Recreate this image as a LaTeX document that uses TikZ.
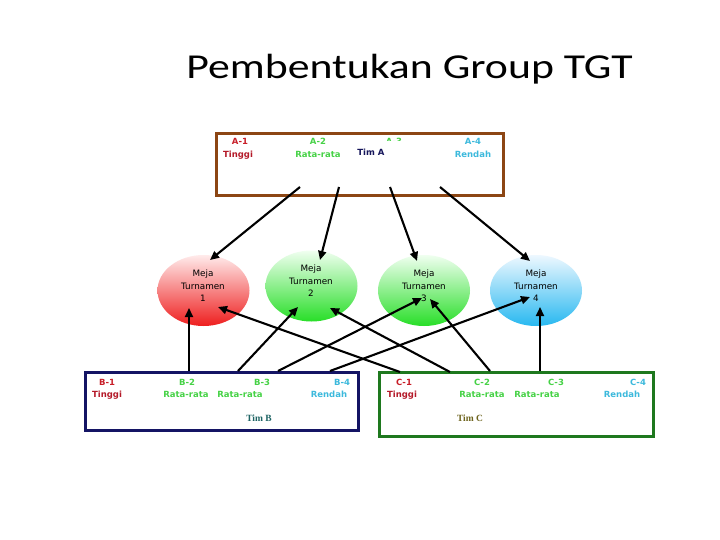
\documentclass[tikz,border=0pt]{standalone}
\usepackage{fontspec}
\usepackage{graphicx}
\setmainfont{DejaVu Sans}
\newfontfamily\titlefont{Carlito}
\newfontfamily\serifbf{Liberation Serif}
\usetikzlibrary{shapes.geometric,arrows.meta}
\definecolor{redA}{RGB}{200,30,40}
\definecolor{redB}{RGB}{180,25,40}
\definecolor{grnT}{RGB}{70,210,70}
\definecolor{cyanT}{RGB}{60,185,220}
\definecolor{navyT}{RGB}{20,20,90}
\definecolor{tealT}{RGB}{30,100,100}
\definecolor{oliveT}{RGB}{110,100,30}
\definecolor{brownB}{RGB}{140,70,20}
\definecolor{navyB}{RGB}{20,20,100}
\definecolor{greenB}{RGB}{30,120,30}
\begin{document}
\begin{tikzpicture}[x=1pt,y=-1pt,
  lbl/.style={font=\fontsize{8.5}{10}\selectfont\bfseries, inner sep=0pt, anchor=base},
  tim/.style={font=\serifbf\fontsize{9.5}{11}\selectfont\bfseries, inner sep=0pt, anchor=base},
  grpbox/.style={draw, line width=3pt, inner sep=0pt, fill=none},
  meja/.style={ellipse, minimum width=92pt, minimum height=71pt, inner sep=0pt, draw=none},
  mejatxt/.style={font=\fontsize{8.8}{12.5}\selectfont, align=center, inner sep=0pt},
  arr/.style={line width=2.1pt, -{Triangle[length=9pt,width=8pt]}}
]
\useasboundingbox[fill=white] (0,0) rectangle (720,540);

% title
\node[font=\titlefont\fontsize{35}{40}\selectfont, anchor=base, inner sep=0pt] (title) at (409.5,79) {\scalebox{1.25}[1]{Pembentukan Group TGT}};

% group boxes
\node[grpbox, draw=brownB, minimum width=287pt, minimum height=62pt] (A) at (360,164.5) {};
\node[grpbox, draw=navyB, minimum width=273pt, minimum height=58pt] (B) at (222,401.5) {};
\node[grpbox, draw=greenB, minimum width=274pt, minimum height=64pt] (C) at (516.5,404.5) {};

% box A labels
\node[lbl, text=redA] (a1) at (240,145) {A-1};
\node[lbl, text=redB] (a1t) at (238,158) {Tinggi};
\node[lbl, text=grnT] (a2) at (318,145) {A-2};
\node[lbl, text=grnT] (a2t) at (318,158) {Rata-rata};
\begin{scope}
  \clip (380,130) rectangle (410,140.5);
  \node[lbl, text=grnT] (a3) at (394,145) {A-3};
\end{scope}
\node[lbl, text=navyT] (tima) at (371,156) {Tim A};
\node[lbl, text=cyanT] (a4) at (473,145) {A-4};
\node[lbl, text=cyanT] (a4t) at (473,158) {Rendah};

% box B labels
\node[lbl, text=redA] (b1) at (107,385) {B-1};
\node[lbl, text=redB] (b1t) at (107,397) {Tinggi};
\node[lbl, text=grnT] (b2) at (187,385) {B-2};
\node[lbl, text=grnT] (b2t) at (186,397) {Rata-rata};
\node[lbl, text=grnT] (b3) at (262,385) {B-3};
\node[lbl, text=grnT] (b3t) at (240,397) {Rata-rata};
\node[lbl, text=cyanT] (b4) at (342,385) {B-4};
\node[lbl, text=cyanT] (b4t) at (329,397) {Rendah};
\node[tim, text=tealT] (timb) at (259,421) {Tim B};

% box C labels
\node[lbl, text=redA] (c1) at (404,385) {C-1};
\node[lbl, text=redB] (c1t) at (402,397) {Tinggi};
\node[lbl, text=grnT] (c2) at (482,385) {C-2};
\node[lbl, text=grnT] (c2t) at (482,397) {Rata-rata};
\node[lbl, text=grnT] (c3) at (556,385) {C-3};
\node[lbl, text=grnT] (c3t) at (537,397) {Rata-rata};
\node[lbl, text=cyanT] (c4) at (638,385) {C-4};
\node[lbl, text=cyanT] (c4t) at (622,397) {Rendah};
\node[tim, text=oliveT] (timc) at (470,421) {Tim C};

% tables
\node[meja, top color={rgb,255:red,255;green,235;blue,235}, bottom color={rgb,255:red,238;green,30;blue,30}] (m1) at (203.5,290.5) {};
\node[meja, top color={rgb,255:red,240;green,255;blue,240}, bottom color={rgb,255:red,40;green,222;blue,40}] (m2) at (311.5,286) {};
\node[meja, top color={rgb,255:red,240;green,255;blue,240}, bottom color={rgb,255:red,40;green,222;blue,40}] (m3) at (424,290.5) {};
\node[meja, top color={rgb,255:red,238;green,248;blue,255}, bottom color={rgb,255:red,40;green,184;blue,240}] (m4) at (536,290.5) {};
\node[mejatxt] (m1t) at (203,286) {Meja\\Turnamen\\1};
\node[mejatxt] (m2t) at (311,281) {Meja\\Turnamen\\2};
\node[mejatxt] (m3t) at (424,286) {Meja\\Turnamen\\3};
\node[mejatxt] (m4t) at (536,286) {Meja\\Turnamen\\4};

% arrow end points
\coordinate (sa1) at (300,187); \coordinate (ta1) at (210,260);
\coordinate (sa2) at (339,187); \coordinate (ta2) at (320,260);
\coordinate (sa3) at (390,187); \coordinate (ta3) at (417,261);
\coordinate (sa4) at (440,187); \coordinate (ta4) at (530,261);
\coordinate (sb1) at (189,371); \coordinate (tb1) at (189,308);
\coordinate (sb2) at (238,371); \coordinate (tb2) at (298,307);
\coordinate (sb3) at (278,371); \coordinate (tb3) at (422,298);
\coordinate (sb4) at (330,371); \coordinate (tb4) at (530,297);
\coordinate (sc1) at (400,372); \coordinate (tc1) at (218,307);
\coordinate (sc2) at (450,372); \coordinate (tc2) at (330,308);
\coordinate (sc3) at (490,371); \coordinate (tc3) at (430,299);
\coordinate (sc4) at (540,371); \coordinate (tc4) at (540,307);

\foreach \s/\t in {sa1/ta1,sa2/ta2,sa3/ta3,sa4/ta4,sb1/tb1,sb2/tb2,sb3/tb3,sb4/tb4,sc1/tc1,sc2/tc2,sc3/tc3,sc4/tc4}
  \draw[arr] (\s) -- (\t);
\end{tikzpicture}
\end{document}
